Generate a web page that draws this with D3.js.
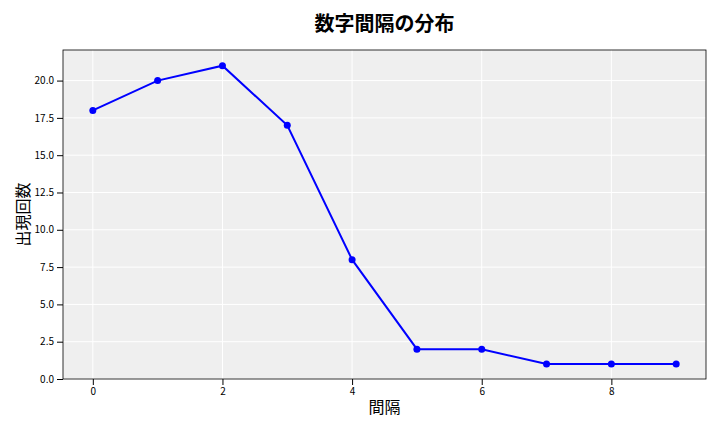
<!DOCTYPE html>
<html><head><meta charset="utf-8">
<script src="https://cdn.jsdelivr.net/npm/d3@7"></script>
<style>body{margin:0;background:#fff}text{font-family:"Noto Sans CJK JP","DejaVu Sans",sans-serif}</style>
</head><body>
<svg id="chart" width="720" height="432"></svg>
<script>
// data
var gaps = [0, 1, 2, 3, 4, 5, 6, 7, 8, 9];
var counts = [18, 20, 21, 17, 8, 2, 2, 1, 1, 1];
var xTicks = [0, 2, 4, 6, 8];
var yTicks = [0, 2.5, 5, 7.5, 10, 12.5, 15, 17.5, 20];

var svg = d3.select("#chart");
var margin = {top: 50, right: 14, bottom: 53, left: 63};
var width = 720 - margin.left - margin.right,
    height = 432 - margin.top - margin.bottom;

var x = d3.scaleLinear().domain([-0.46, 9.46]).range([0, width]);
var y = d3.scaleLinear().domain([0, 22.05]).range([height, 0]);

var g = svg.append("g").attr("transform", "translate(" + margin.left + "," + margin.top + ")");

g.append("rect").attr("width", width).attr("height", height).attr("fill", "#efefef");

// grid
g.selectAll(".vg").data(xTicks).enter().append("line")
  .attr("x1", d => x(d)).attr("x2", d => x(d)).attr("y1", 0).attr("y2", height)
  .attr("stroke", "#fff").attr("stroke-width", 1);
g.selectAll(".hg").data(yTicks).enter().append("line")
  .attr("y1", d => y(d)).attr("y2", d => y(d)).attr("x1", 0).attr("x2", width)
  .attr("stroke", "#fff").attr("stroke-width", 1);

var xAxis = g.append("g").attr("transform", "translate(0," + height + ")")
  .call(d3.axisBottom(x).tickValues(xTicks).tickFormat(d3.format("d")).tickSizeOuter(0));
var yAxis = g.append("g")
  .call(d3.axisLeft(y).tickValues(yTicks).tickFormat(d3.format(".1f")).tickSizeOuter(0));
[xAxis, yAxis].forEach(function(a) {
  a.select(".domain").remove();
  a.selectAll("text").attr("font-size", 10).attr("fill", "#000");
  a.selectAll("line").attr("stroke", "#000");
});

g.append("rect").attr("width", width).attr("height", height)
  .attr("fill", "none").attr("stroke", "#000").attr("stroke-width", 0.8);

var line = d3.line().x((d, i) => x(gaps[i])).y(d => y(d));
g.append("path").datum(counts).attr("d", line)
  .attr("fill", "none").attr("stroke", "#0000ff").attr("stroke-width", 2);
g.selectAll(".pt").data(counts).enter().append("circle")
  .attr("cx", (d, i) => x(gaps[i])).attr("cy", d => y(d)).attr("r", 3.5).attr("fill", "#0000ff");

svg.append("text").attr("x", margin.left + width / 2).attr("y", 31)
  .attr("text-anchor", "middle").attr("font-size", 20).attr("font-weight", "bold").text("数字間隔の分布");
svg.append("text").attr("x", margin.left + width / 2).attr("y", 413)
  .attr("text-anchor", "middle").attr("font-size", 16).text("間隔");
svg.append("text").attr("transform", "translate(29," + (margin.top + height / 2) + ") rotate(-90)")
  .attr("text-anchor", "middle").attr("font-size", 16).text("出現回数");
</script>
</body></html>
